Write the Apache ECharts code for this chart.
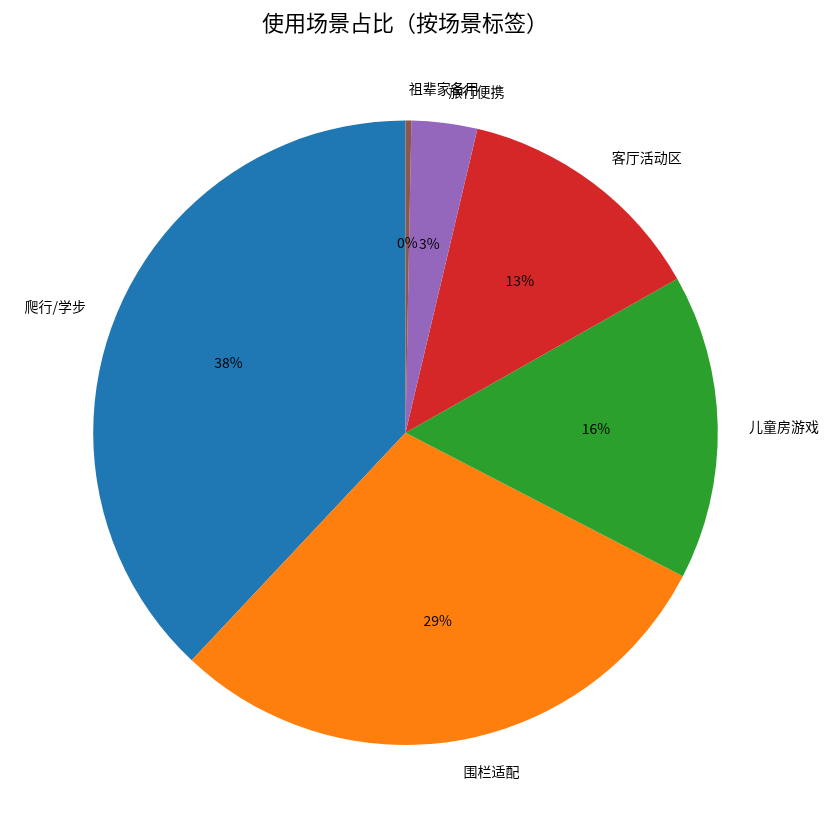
<!DOCTYPE html>
<html><head><meta charset="utf-8">
<script src="https://cdn.jsdelivr.net/npm/echarts@6/dist/echarts.min.js"></script>
<style>html,body{margin:0;padding:0;background:#fff}#c{width:840px;height:840px}</style>
</head><body><div id="c"></div>
<script>
const titleText = '使用场景占比（按场景标签）';
const categories = ['爬行/学步', '围栏适配', '儿童房游戏', '客厅活动区', '旅行便携', '祖辈家备用'];
const shares = [38.0, 29.4, 15.8, 13.1, 3.4, 0.3];
const colors = ['#1f77b4', '#ff7f0e', '#2ca02c', '#d62728', '#9467bd', '#8c564b'];

const cx = 405.5, cy = 432.7, R = 312.3;
const font = '"Noto Sans CJK SC", "Noto Sans", sans-serif';
const total = shares.reduce((a, b) => a + b, 0);
const data = categories.map((n, i) => ({ name: n, value: shares[i], itemStyle: { color: colors[i] } }));

const chart = echarts.init(document.getElementById('c'), null, { renderer: 'canvas' });
chart.setOption({
  animation: false,
  backgroundColor: '#fff',
  title: {
    text: titleText, left: 262, top: 12, padding: 0,
    textStyle: { fontFamily: font, fontSize: 22, fontWeight: 'normal', color: '#000' }
  },
  series: [
    {
      type: 'pie', center: [cx, cy], radius: [0, R],
      startAngle: 90, clockwise: false, avoidLabelOverlap: false,
      minShowLabelAngle: 0,
      silent: true,
      itemStyle: { borderWidth: 0 },
      labelLayout: { hideOverlap: false },
      label: {
        show: true, position: 'outside', distanceToLabelLine: 0,
        fontFamily: font, fontSize: 14, color: '#000',
        formatter: p => p.name
      },
      labelLine: { show: false, length: R * 0.1, length2: 0 },
      data: data
    },
    {
      type: 'pie', center: [cx, cy], radius: [0, R * 1.2],
      startAngle: 90, clockwise: false, avoidLabelOverlap: false,
      silent: true,
      itemStyle: { color: 'rgba(0,0,0,0)', borderWidth: 0 },
      labelLayout: { hideOverlap: false },
      label: {
        show: true, position: 'inside',
        fontFamily: font, fontSize: 14, color: '#000',
        formatter: p => Math.round(p.value / total * 100) + '%'
      },
      labelLine: { show: false },
      data: categories.map((n, i) => ({ name: n, value: shares[i] }))
    }
  ]
});
</script>
</body></html>
